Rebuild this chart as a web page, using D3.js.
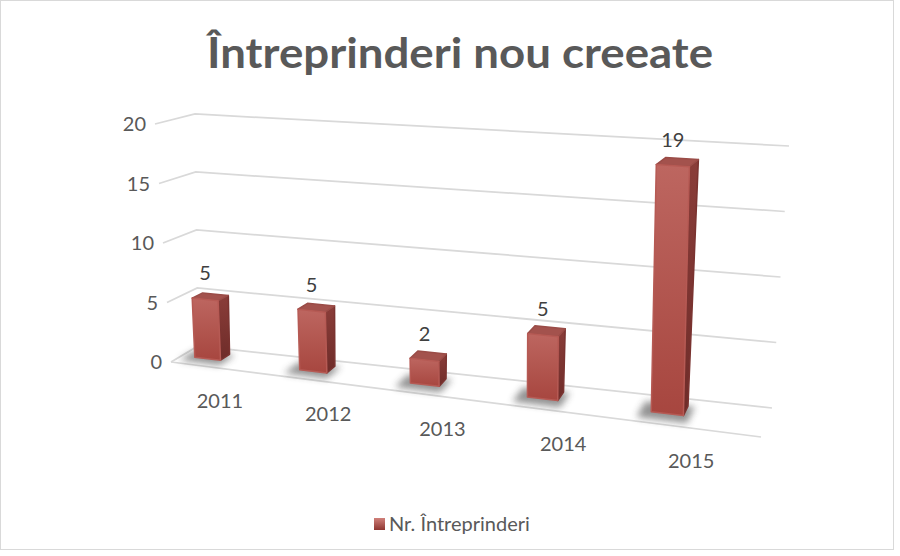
<!DOCTYPE html>
<html>
<head>
<meta charset="utf-8">
<script src="https://cdn.jsdelivr.net/npm/d3@7"></script>
<style>
  body { margin: 0; background: #fff; }
  text { font-family: "Gill Sans", "Lato", sans-serif; }
</style>
</head>
<body>
<div id="chart"></div>
<script>
var title = "Întreprinderi nou creeate";
var seriesName = "Nr. Întreprinderi";
var years = ["2011", "2012", "2013", "2014", "2015"];
var values = [5, 5, 2, 5, 19];
var yTicks = [0, 5, 10, 15, 20];

var width = 900, height = 556;

// corners of the 3d box on screen: [x0y0, x1y0, x0y1, x1y1]
var frontQuad = [[171, 362], [761, 437], [155, 124], [765, 168]];
var backQuad = [[198, 346], [772, 408], [195, 114], [789, 146]];
var perspRatio = 1.15; // right end is a bit nearer than the left one

var yScale = d3.scaleLinear().domain([0, 20]).range([0, 1]);
var xBar = d3.scaleBand().domain(years).range([0, 1])
  .paddingInner(0.75).paddingOuter(0.375).align(0.17);
var xLabel = d3.scalePoint().domain(years).range([0, 1]).padding(0.5);

function persp(u) { return u / (u + perspRatio * (1 - u)); }
function lerp(a, b, t) { return a + (b - a) * t; }

function project(u, v, w) {
  var p = persp(u);
  function onQuad(q) {
    var bx = lerp(q[0][0], q[1][0], p), by = lerp(q[0][1], q[1][1], p);
    var tx = lerp(q[2][0], q[3][0], p), ty = lerp(q[2][1], q[3][1], p);
    return [lerp(bx, tx, v), lerp(by, ty, v)];
  }
  var f = onQuad(frontQuad), b = onQuad(backQuad);
  return [lerp(f[0], b[0], w), lerp(f[1], b[1], w)];
}

var svg = d3.select("#chart").append("svg")
  .attr("width", width)
  .attr("height", height);

var defs = svg.append("defs");

var frontGrad = defs.append("linearGradient")
  .attr("id", "frontGrad").attr("x1", 0).attr("y1", 0).attr("x2", 0).attr("y2", 1);
frontGrad.append("stop").attr("offset", "0%").attr("stop-color", "#bd6660");
frontGrad.append("stop").attr("offset", "100%").attr("stop-color", "#a7463f");

var sideGrad = defs.append("linearGradient")
  .attr("id", "sideGrad").attr("x1", 0).attr("y1", 0).attr("x2", 0).attr("y2", 1);
sideGrad.append("stop").attr("offset", "0%").attr("stop-color", "#8a3d39");
sideGrad.append("stop").attr("offset", "100%").attr("stop-color", "#6e2c29");

var legGrad = defs.append("linearGradient")
  .attr("id", "legGrad").attr("x1", 0).attr("y1", 0).attr("x2", 0).attr("y2", 1);
legGrad.append("stop").attr("offset", "0%").attr("stop-color", "#d0807a");
legGrad.append("stop").attr("offset", "100%").attr("stop-color", "#8e3631");

defs.append("filter").attr("id", "blur")
  .attr("x", "-50%").attr("y", "-50%").attr("width", "200%").attr("height", "200%")
  .append("feGaussianBlur").attr("stdDeviation", 3.5);

// chart border
svg.append("rect")
  .attr("x", 0.5).attr("y", 0.5)
  .attr("width", 893).attr("height", 549)
  .attr("fill", "#fff")
  .attr("stroke", "#d9d9d9");

// title
svg.append("text")
  .attr("x", 460).attr("y", 68)
  .attr("text-anchor", "middle")
  .attr("font-size", 42)
  .attr("font-weight", "bold")
  .attr("fill", "#595959")
  .attr("textLength", 506)
  .attr("lengthAdjust", "spacingAndGlyphs")
  .text(title);

var line = d3.line();

// gridlines: side wall + back wall
svg.append("g").selectAll("path")
  .data(yTicks)
  .enter().append("path")
  .attr("d", function(t) {
    var v = yScale(t);
    return line([project(0, v, 0), project(0, v, 1), project(1, v, 1)]);
  })
  .attr("fill", "none")
  .attr("stroke", "#d9d9d9")
  .attr("stroke-width", 1.75);

// front edge of the floor
svg.append("path")
  .attr("d", line([project(0, 0, 0), project(1, 0, 0)]))
  .attr("fill", "none")
  .attr("stroke", "#d9d9d9")
  .attr("stroke-width", 1.75);

// value axis labels
svg.append("g").selectAll("text")
  .data(yTicks)
  .enter().append("text")
  .attr("x", function(t) { return project(0, yScale(t), 0)[0] - 9; })
  .attr("y", function(t) { return project(0, yScale(t), 0)[1] + 7; })
  .attr("text-anchor", "end")
  .attr("font-size", 20)
  .attr("fill", "#595959")
  .text(function(t) { return t; });

// category labels
svg.append("g").selectAll("text")
  .data(years)
  .enter().append("text")
  .attr("x", function(d) { return project(xLabel(d), 0, 0)[0] - 3; })
  .attr("y", function(d) { return project(xLabel(d), 0, 0)[1] + 39; })
  .attr("text-anchor", "middle")
  .attr("font-size", 20)
  .attr("fill", "#595959")
  .text(function(d) { return d; });

var w0 = 0.4, w1 = 0.75;
var bars = years.map(function(y, i) {
  return { year: y, value: values[i], u0: xBar(y), u1: xBar(y) + xBar.bandwidth() };
});

// shadows under the bars
svg.append("g").selectAll("path")
  .data(bars)
  .enter().append("path")
  .attr("d", function(d) {
    var du = xBar.bandwidth() * 0.35;
    return line([
      project(d.u0 - du, 0, w0 - 0.25), project(d.u1 + du * 0.6, 0, w0 - 0.25),
      project(d.u1 + du * 0.6, 0, w1), project(d.u0 - du, 0, w1)
    ]) + "Z";
  })
  .attr("fill", "#3a3a3a")
  .attr("opacity", 0.55)
  .attr("filter", "url(#blur)");

var barG = svg.append("g").selectAll("g")
  .data(bars)
  .enter().append("g");

// right side face
barG.append("path")
  .attr("d", function(d) {
    var v = yScale(d.value);
    return line([project(d.u1, 0, w0), project(d.u1, 0, w1),
      project(d.u1, v, w1), project(d.u1, v, w0)]) + "Z";
  })
  .attr("fill", "url(#sideGrad)")
  .attr("stroke", "#7a3330")
  .attr("stroke-width", 1.5)
  .attr("stroke-linejoin", "round");

// top face
barG.append("path")
  .attr("d", function(d) {
    var v = yScale(d.value);
    return line([project(d.u0, v, w0), project(d.u1, v, w0),
      project(d.u1, v, w1), project(d.u0, v, w1)]) + "Z";
  })
  .attr("fill", "#a3524d")
  .attr("stroke", "#9a4c47")
  .attr("stroke-width", 1.5)
  .attr("stroke-linejoin", "round");

// front face
barG.append("path")
  .attr("d", function(d) {
    var v = yScale(d.value);
    return line([project(d.u0, 0, w0), project(d.u1, 0, w0),
      project(d.u1, v, w0), project(d.u0, v, w0)]) + "Z";
  })
  .attr("fill", "url(#frontGrad)")
  .attr("stroke", "#b65a54")
  .attr("stroke-width", 1.5)
  .attr("stroke-linejoin", "round");

// data labels
svg.append("g").selectAll("text")
  .data(bars)
  .enter().append("text")
  .attr("x", function(d) { return project((d.u0 + d.u1) / 2, yScale(d.value), w0)[0]; })
  .attr("y", function(d) { return project((d.u0 + d.u1) / 2, yScale(d.value), w0)[1] - 19; })
  .attr("text-anchor", "middle")
  .attr("font-size", 20)
  .attr("fill", "#404040")
  .text(function(d) { return d.value; });

// legend
var legend = svg.append("g");
legend.append("rect")
  .attr("x", 374).attr("y", 518)
  .attr("width", 11).attr("height", 12)
  .attr("fill", "url(#legGrad)");
legend.append("text")
  .attr("x", 389).attr("y", 531)
  .attr("font-size", 20)
  .attr("fill", "#595959")
  .text(seriesName);
</script>
</body>
</html>
